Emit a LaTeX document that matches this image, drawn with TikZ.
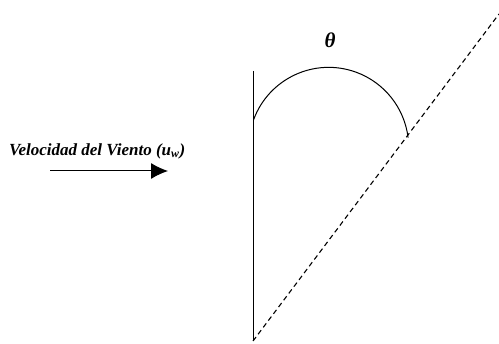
\documentclass[tikz,border=0pt]{standalone}
\usepackage{fontspec}
\setmainfont{Liberation Serif}
\usetikzlibrary{arrows.meta}
\begin{document}
\begin{tikzpicture}[x=1pt,y=-1pt,
  lbl/.style={font=\bfseries\itshape, inner sep=0pt},
  ln/.style={line width=1pt, black},
  dashln/.style={line width=1.1pt, black, dash pattern=on 5pt off 3.5pt}]
\useasboundingbox (0,0) rectangle (499,344);
\node[lbl, font=\fontsize{17}{19}\selectfont\bfseries\itshape, anchor=west] (wind) at (9,151) {Velocidad del Viento (u\textsubscript{w})};
\coordinate (a1) at (50,171);
\coordinate (a2) at (168,171);
\draw[ln, -{Latex[length=17pt,width=16pt]}] (a1) -- (a2);
\coordinate (vtop) at (253,71);
\coordinate (base) at (253,341);
\draw[ln] (vtop) -- (base);
\coordinate (dtop) at (499,14);
\draw[dashln] (base) -- (dtop);
\coordinate (arcs) at (253.5,120);
\draw[ln] (arcs) arc[start angle=-160, end angle=-7, radius=80];
\node[lbl, font=\fontsize{21}{23}\selectfont\bfseries\itshape] (theta) at (330,40) {θ};
\end{tikzpicture}
\end{document}
